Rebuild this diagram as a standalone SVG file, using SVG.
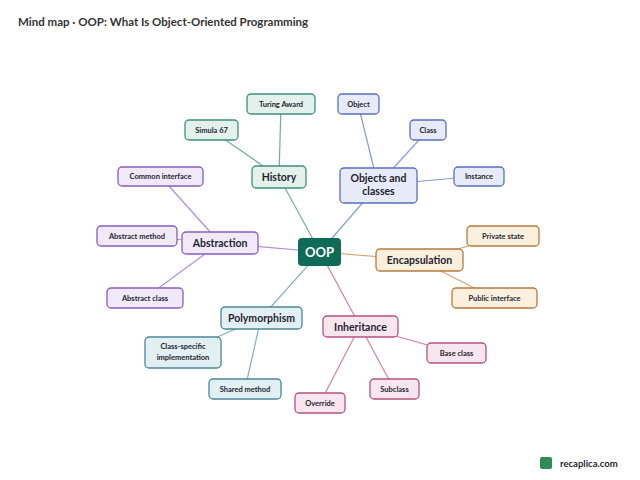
<svg xmlns="http://www.w3.org/2000/svg" width="640" height="480" viewBox="0 0 640 480">
<style>
text{font-family:"Lato","Noto Sans",sans-serif;font-weight:bold;fill:#1f2430;text-anchor:middle;dominant-baseline:central}
.m{font-size:10.5px}.l{font-size:7.5px}
.g rect{fill:#e3f1ec;stroke:#3f8f7a}.b rect{fill:#e7ebf8;stroke:#5a6ec0}.o rect{fill:#fbf0de;stroke:#b67a3c}
.p rect{fill:#f8e6ee;stroke:#b8527e}.t rect{fill:#e2eff3;stroke:#4a8898}.v rect{fill:#efe9f8;stroke:#8a5cc0}
rect{stroke-width:1.3}
#edges line{stroke-width:1.2}
</style>
<rect width="640" height="480" fill="#fff"/>
<text x="18" y="21" style="font-size:11.5px;text-anchor:start;fill:#333">Mind map · OOP: What Is Object-Oriented Programming</text>
<g id="edges">
<g stroke="#6fae9b"><line x1="320" y1="252" x2="279" y2="177"/><line x1="279" y1="177" x2="281" y2="104"/><line x1="279" y1="177" x2="211" y2="130"/></g>
<g stroke="#8b9ad6"><line x1="320" y1="252" x2="378" y2="185"/><line x1="378" y1="185" x2="358" y2="104"/><line x1="378" y1="185" x2="428" y2="130"/><line x1="378" y1="185" x2="479" y2="176"/></g>
<g stroke="#d3a577"><line x1="320" y1="252" x2="419" y2="260"/><line x1="419" y1="260" x2="503" y2="236"/><line x1="419" y1="260" x2="494" y2="298"/></g>
<g stroke="#d47fa3"><line x1="320" y1="252" x2="360" y2="326"/><line x1="360" y1="326" x2="456" y2="353"/><line x1="360" y1="326" x2="394" y2="389"/><line x1="360" y1="326" x2="320" y2="403"/></g>
<g stroke="#7fb3c0"><line x1="320" y1="252" x2="261" y2="318"/><line x1="261" y1="318" x2="183" y2="352"/><line x1="261" y1="318" x2="245" y2="389"/></g>
<g stroke="#ad90d8"><line x1="320" y1="252" x2="220" y2="243"/><line x1="220" y1="243" x2="160" y2="176"/><line x1="220" y1="243" x2="137" y2="236"/><line x1="220" y1="243" x2="145" y2="298"/></g>
</g>
<g id="oop"><rect x="298" y="238" width="43" height="28" rx="4" fill="#0d6b57" stroke="none"/><text x="319.5" y="252" style="font-size:13px;fill:#fff">OOP</text></g>
<g id="history" class="g"><rect x="252" y="166" width="54" height="22" rx="4"/><text class="m" x="279" y="177">History</text></g>
<g id="turing" class="g"><rect x="247" y="94" width="68" height="20" rx="4"/><text class="l" x="281" y="104">Turing Award</text></g>
<g id="simula" class="g"><rect x="185" y="120" width="53" height="20" rx="4"/><text class="l" x="211.5" y="130">Simula 67</text></g>
<g id="objects" class="b"><rect x="340" y="168" width="77" height="35" rx="4"/><text class="m" x="378.5" y="178">Objects and</text><text class="m" x="378.5" y="191">classes</text></g>
<g id="object" class="b"><rect x="338" y="94" width="41" height="20" rx="4"/><text class="l" x="358.5" y="104">Object</text></g>
<g id="class" class="b"><rect x="410" y="120" width="36" height="20" rx="4"/><text class="l" x="428" y="130">Class</text></g>
<g id="instance" class="b"><rect x="454" y="167" width="50" height="19" rx="4"/><text class="l" x="479" y="176.5">Instance</text></g>
<g id="encap" class="o"><rect x="376" y="249" width="87" height="22" rx="4"/><text class="m" x="419.5" y="260">Encapsulation</text></g>
<g id="private" class="o"><rect x="467" y="226" width="72" height="20" rx="4"/><text class="l" x="503" y="236">Private state</text></g>
<g id="public" class="o"><rect x="452" y="288" width="85" height="20" rx="4"/><text class="l" x="494.5" y="298">Public interface</text></g>
<g id="inherit" class="p"><rect x="323" y="316" width="75" height="21" rx="4"/><text class="m" x="360.5" y="326.5">Inheritance</text></g>
<g id="base" class="p"><rect x="427" y="343" width="59" height="20" rx="4"/><text class="l" x="456.5" y="353">Base class</text></g>
<g id="subclass" class="p"><rect x="370" y="379" width="49" height="20" rx="4"/><text class="l" x="394.5" y="389">Subclass</text></g>
<g id="override" class="p"><rect x="295" y="393" width="50" height="20" rx="4"/><text class="l" x="320" y="403">Override</text></g>
<g id="poly" class="t"><rect x="221" y="307" width="81" height="22" rx="4"/><text class="m" x="261.5" y="318">Polymorphism</text></g>
<g id="csi" class="t"><rect x="145" y="337" width="76" height="31" rx="4"/><text class="l" x="183" y="346">Class-specific</text><text class="l" x="183" y="357">implementation</text></g>
<g id="shared" class="t"><rect x="209" y="379" width="72" height="20" rx="4"/><text class="l" x="245" y="389">Shared method</text></g>
<g id="abstraction" class="v"><rect x="182" y="232" width="76" height="22" rx="4"/><text class="m" x="220" y="243">Abstraction</text></g>
<g id="common" class="v"><rect x="118" y="167" width="85" height="19" rx="4"/><text class="l" x="160.5" y="176.5">Common interface</text></g>
<g id="amethod" class="v"><rect x="97" y="226" width="80" height="20" rx="4"/><text class="l" x="137" y="236">Abstract method</text></g>
<g id="aclass" class="v"><rect x="107" y="288" width="76" height="20" rx="4"/><text class="l" x="145" y="298">Abstract class</text></g>
<g id="brand"><rect x="540" y="457" width="12" height="12" rx="2" fill="#2e8b57"/><text x="560" y="463" style="font-size:9.5px;text-anchor:start;fill:#1f2430">recaplica.com</text></g>
</svg>
